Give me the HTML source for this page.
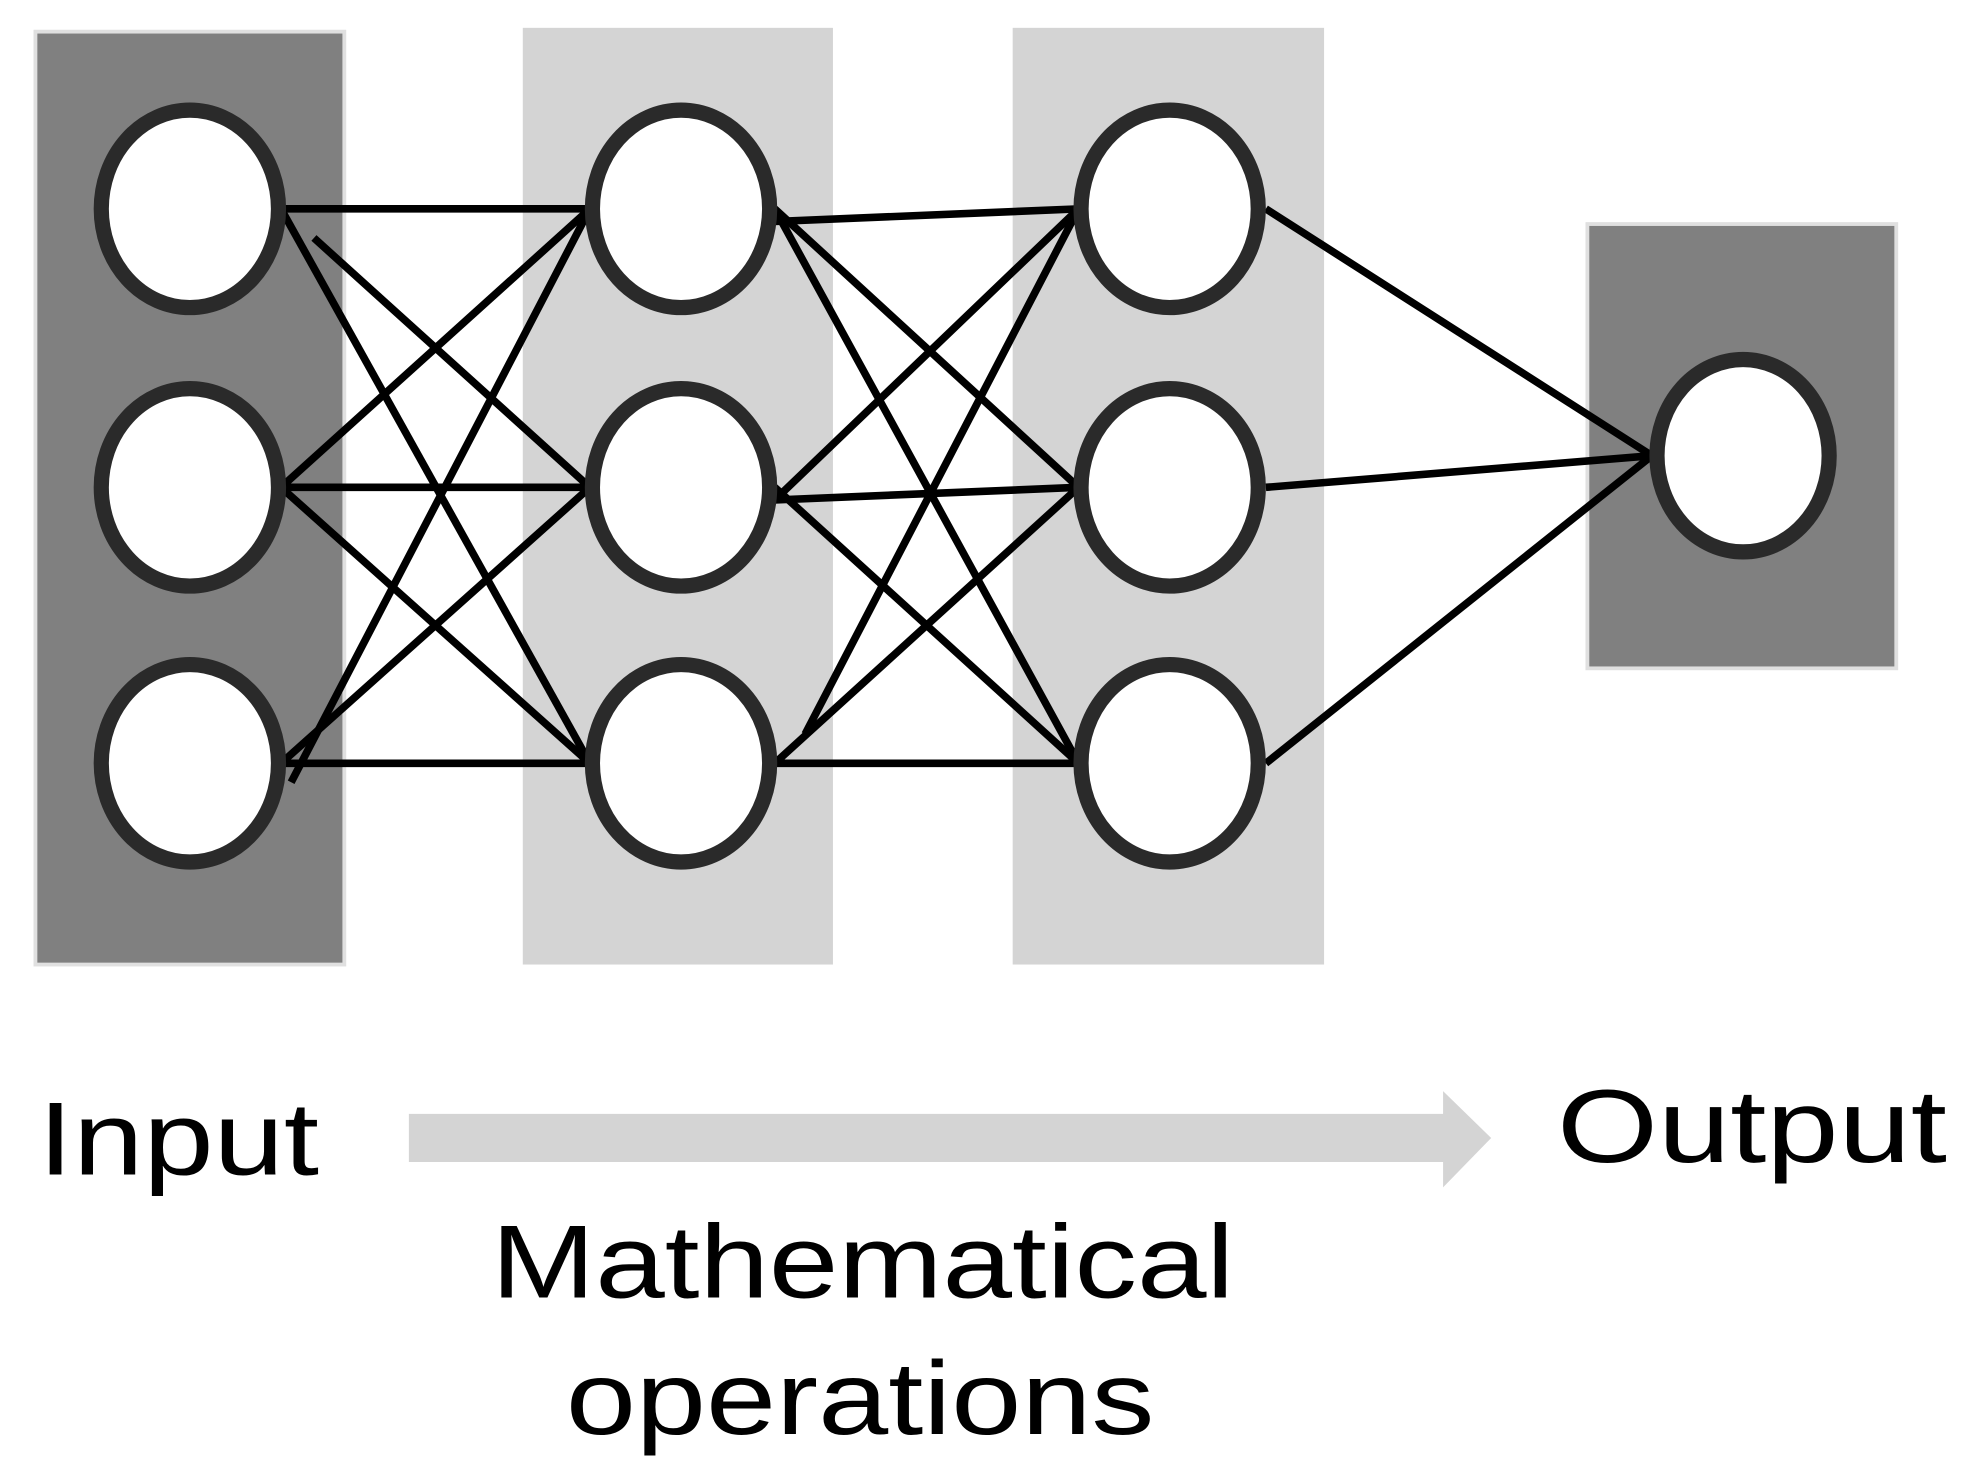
<!DOCTYPE html>
<html><head><meta charset="utf-8"><style>html,body{margin:0;padding:0;background:#fff}svg{display:block}</style></head>
<body>
<svg width="1976" height="1481" viewBox="0 0 1561 1170" preserveAspectRatio="none" xmlns="http://www.w3.org/2000/svg">
<rect width="1561" height="1170" fill="#fff"/>
<rect x="28" y="25" width="244" height="737" fill="#808080" stroke="#e0e0e0" stroke-width="3"/>
<rect x="413" y="22" width="245" height="740" fill="#d4d4d4"/>
<rect x="800" y="22" width="246" height="740" fill="#d4d4d4"/>
<rect x="1254" y="177" width="244" height="351" fill="#808080" stroke="#e0e0e0" stroke-width="3"/>
<g stroke="#000" stroke-width="6" fill="none">
<line x1="222" y1="165" x2="466" y2="165"/>
<line x1="248" y1="188" x2="466" y2="385"/>
<line x1="222" y1="165" x2="466" y2="603"/>
<line x1="222" y1="385" x2="466" y2="165"/>
<line x1="222" y1="385" x2="466" y2="385"/>
<line x1="222" y1="385" x2="466" y2="603"/>
<line x1="230" y1="618" x2="466" y2="165"/>
<line x1="222" y1="603" x2="466" y2="385"/>
<line x1="222" y1="603" x2="466" y2="603"/>
<line x1="612" y1="175" x2="852" y2="165"/>
<line x1="612" y1="165" x2="852" y2="385"/>
<line x1="612" y1="165" x2="852" y2="603"/>
<line x1="612" y1="395" x2="852" y2="165"/>
<line x1="612" y1="395" x2="852" y2="385"/>
<line x1="612" y1="385" x2="852" y2="603"/>
<line x1="636" y1="580" x2="852" y2="165"/>
<line x1="612" y1="603" x2="852" y2="385"/>
<line x1="612" y1="603" x2="852" y2="603"/>
<line x1="1000" y1="165" x2="1305" y2="360"/>
<line x1="1000" y1="385" x2="1305" y2="360"/>
<line x1="1000" y1="603" x2="1305" y2="360"/>
</g>
<g fill="#fff" stroke="#2a2a2a" stroke-width="12">
<ellipse cx="150" cy="165" rx="70" ry="78"/>
<ellipse cx="150" cy="385" rx="70" ry="78"/>
<ellipse cx="150" cy="603" rx="70" ry="78"/>
<ellipse cx="538" cy="165" rx="70" ry="78"/>
<ellipse cx="538" cy="385" rx="70" ry="78"/>
<ellipse cx="538" cy="603" rx="70" ry="78"/>
<ellipse cx="924" cy="165" rx="70" ry="78"/>
<ellipse cx="924" cy="385" rx="70" ry="78"/>
<ellipse cx="924" cy="603" rx="70" ry="78"/>
<ellipse cx="1377" cy="360" rx="68" ry="76"/>
</g>
<polygon points="323,880 1140,880 1140,862 1178,899 1140,938 1140,918 323,918" fill="#d4d4d4"/>
<g font-family="Liberation Sans, sans-serif" font-size="82" fill="#000">
<text x="30" y="928" textLength="222" lengthAdjust="spacingAndGlyphs">Input</text>
<text x="1230" y="918" textLength="308" lengthAdjust="spacingAndGlyphs">Output</text>
<text x="388" y="1025" textLength="587" lengthAdjust="spacingAndGlyphs">Mathematical</text>
<text x="447" y="1133" textLength="465" lengthAdjust="spacingAndGlyphs">operations</text>
</g>
</svg>
</body></html>
